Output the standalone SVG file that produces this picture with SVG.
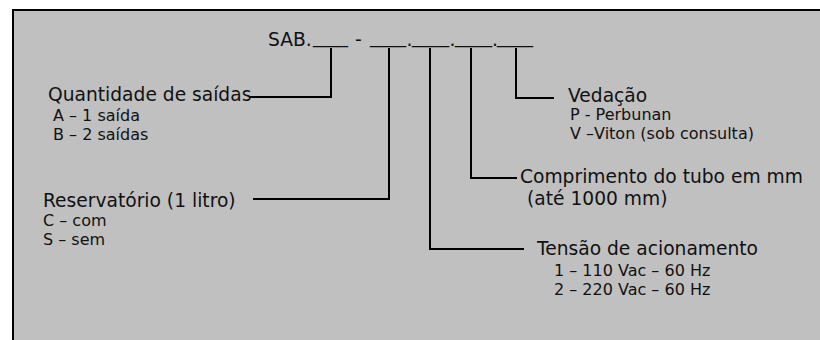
<svg xmlns="http://www.w3.org/2000/svg" width="820" height="340" viewBox="0 0 820 340">
<style>
text{font-family:"DejaVu Sans","Verdana",sans-serif;fill:#111}
.t{font-size:18.67px}
.s{font-size:16px}
.c polyline{stroke:#000;stroke-width:2;fill:none}
</style>
<rect width="820" height="340" fill="#fff"/>
<rect x="13" y="10" width="820" height="340" fill="#c0c0c0" stroke="#000" stroke-width="2"/>
<g id="code" class="t">
<text class="t" x="268" y="46">SAB.</text>
<text class="t" x="313" y="43" textLength="35" lengthAdjust="spacingAndGlyphs">___</text>
<text class="t" x="355" y="46">-</text>
<text class="t" x="370" y="43" textLength="36" lengthAdjust="spacingAndGlyphs">___</text>
<text class="t" x="406.5" y="46">.</text>
<text class="t" x="412" y="43" textLength="37" lengthAdjust="spacingAndGlyphs">___</text>
<text class="t" x="449.5" y="46">.</text>
<text class="t" x="455" y="43" textLength="37" lengthAdjust="spacingAndGlyphs">___</text>
<text class="t" x="492" y="46">.</text>
<text class="t" x="497" y="43" textLength="36" lengthAdjust="spacingAndGlyphs">___</text>
</g>
<g class="c" id="connectors">
<polyline points="331,48 331,97 250,97"/>
<polyline points="389,48 389,199 253,199"/>
<polyline points="430,48 430,249 524,249"/>
<polyline points="471,48 471,178 517,178"/>
<polyline points="516,48 516,98 554,98"/>
</g>
<g id="quantidade"><text class="t" x="48" y="101">Quantidade de saídas</text><text class="s" x="53" y="121">A – 1 saída</text><text class="s" x="53" y="140">B – 2 saídas</text></g>
<g id="reservatorio"><text class="t" x="43" y="207">Reservatório (1 litro)</text><text class="s" x="43" y="226">C – com</text><text class="s" x="43" y="245">S – sem</text></g>
<g id="tensao"><text class="t" x="537" y="255">Tensão de acionamento</text><text class="s" x="554" y="276">1 – 110 Vac – 60 Hz</text><text class="s" x="554" y="295">2 – 220 Vac – 60 Hz</text></g>
<g id="comprimento"><text class="t" x="520" y="183">Comprimento do tubo em mm</text><text class="t" x="527" y="205">(até 1000 mm)</text></g>
<g id="vedacao"><text class="t" x="568" y="102">Vedação</text><text class="s" x="570" y="120">P - Perbunan</text><text class="s" x="570" y="139">V –Viton (sob consulta)</text></g>
</svg>
